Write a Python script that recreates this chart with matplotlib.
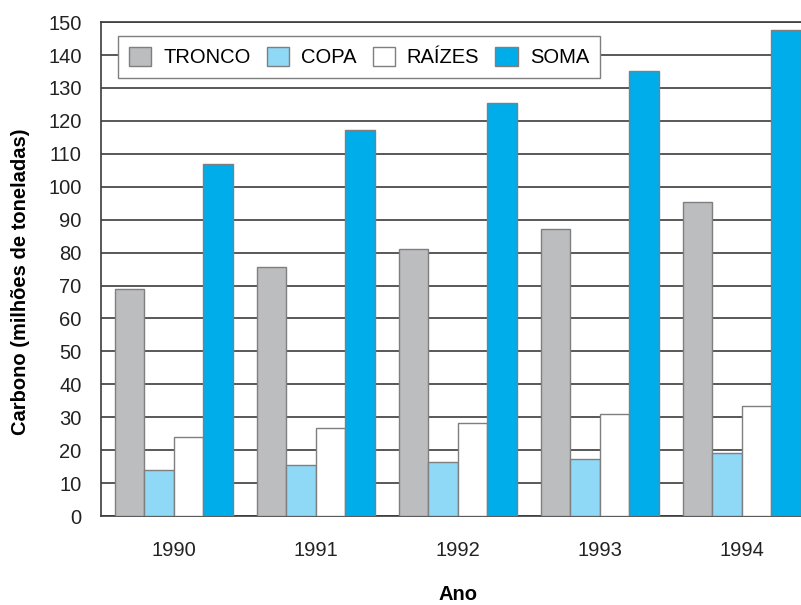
import numpy as np
import matplotlib.pyplot as plt

plt.rcParams['font.family'] = ['Liberation Sans', 'DejaVu Sans']

anos = ['1990', '1991', '1992', '1993', '1994']
tronco = [69, 75.5, 81, 87.3, 95.3]
copa = [14, 15.4, 16.5, 17.4, 19.2]
raizes = [24, 26.6, 28.3, 30.9, 33.4]
soma = [107, 117.2, 125.3, 135.1, 147.6]

series = [('TRONCO', tronco, '#bcbdbf'),
          ('COPA', copa, '#8fd8f6'),
          ('RAÍZES', raizes, '#ffffff'),
          ('SOMA', soma, '#00adeb')]

fig = plt.figure(figsize=(8.01, 6.05), dpi=100)
ax = fig.add_axes([0.1261, 0.147, 0.891, 0.8165])

x = np.arange(len(anos))
w = 0.208
for i, (nome, vals, cor) in enumerate(series):
    ax.bar(x + (i - 1.5) * w, vals, w, color=cor, edgecolor='#7f7f7f',
           linewidth=1.0, label=nome, zorder=3)

ax.set_xlim(-0.514, 4.514)
ax.set_ylim(0, 150)
ax.set_yticks(range(0, 151, 10))
ax.set_xticks(x)
ax.set_xticklabels(anos)
ax.yaxis.grid(True, color='#3c3c3c', linewidth=1.2, zorder=0)
ax.set_axisbelow(True)
ax.tick_params(axis='both', length=0, labelsize=14.5, colors='#222222')
ax.tick_params(axis='x', pad=18)
ax.tick_params(axis='y', pad=14)
for s in ax.spines.values():
    s.set_color('#3c3c3c')
    s.set_linewidth(1.2)

ax.set_xlabel('Ano', fontsize=14.5, fontweight='bold', labelpad=18)
ax.set_ylabel('Carbono (milhões de toneladas)', fontsize=14.5,
              fontweight='bold')
ax.yaxis.set_label_coords(-0.1, 0.475)

leg = ax.legend(loc='center left', bbox_to_anchor=(0.0238, 0.929), ncol=4,
                fancybox=False, edgecolor='#7f7f7f', framealpha=1,
                fontsize=14.5, handlelength=1.1, handleheight=1.1,
                handletextpad=0.6, columnspacing=0.8, borderpad=0.55,
                borderaxespad=0)
leg.get_frame().set_linewidth(1.0)
leg.set_zorder(5)

fig.savefig('out.png', dpi=100)
